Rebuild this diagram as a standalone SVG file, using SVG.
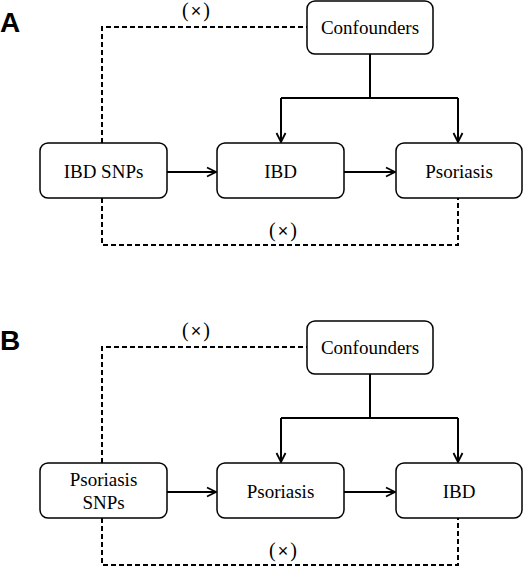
<svg xmlns="http://www.w3.org/2000/svg" width="528" height="567" viewBox="0 0 528 567">
<style>
.box{fill:#fff;stroke:#000;stroke-width:1.5}
.t{font-family:"Liberation Serif","Times New Roman",serif;font-size:19px;fill:#000;text-anchor:middle}
.x{font-family:"Liberation Serif","Times New Roman",serif;font-size:20px;fill:#000;text-anchor:middle}
.xs{font-family:"Liberation Sans",Arial,sans-serif;font-size:18px}
.p{font-family:"Liberation Sans",Arial,sans-serif;font-size:28px;font-weight:bold;fill:#000}
.s{fill:none;stroke:#000;stroke-width:2}
.d{fill:none;stroke:#000;stroke-width:2;stroke-dasharray:5 3}
</style>
<defs>
<marker id="ah" markerUnits="userSpaceOnUse" markerWidth="12" markerHeight="12" viewBox="0 0 12 12" refX="10.5" refY="6" orient="auto">
<path d="M1.5,1.5 L10.5,6 L1.5,10.5" fill="none" stroke="#000" stroke-width="1.8"/>
</marker>
</defs>
<text class="p" x="0" y="32">A</text>
<text class="p" x="0" y="350">B</text>
<g id="connectors">
<path class="s" d="M370 54 V98 M281 98 H458"/>
<path class="s" d="M281 98 V142" marker-end="url(#ah)"/>
<path class="s" d="M458 98 V142" marker-end="url(#ah)"/>
<path class="s" d="M167 172 H216" marker-end="url(#ah)"/>
<path class="s" d="M344 172 H395" marker-end="url(#ah)"/>
<path class="d" d="M102 143 V27 H307"/>
<path class="d" d="M102 198 V245 H458 V198"/>
<path class="s" d="M370 374 V418 M281 418 H458"/>
<path class="s" d="M281 418 V462" marker-end="url(#ah)"/>
<path class="s" d="M458 418 V462" marker-end="url(#ah)"/>
<path class="s" d="M167 492 H216" marker-end="url(#ah)"/>
<path class="s" d="M344 492 H395" marker-end="url(#ah)"/>
<path class="d" d="M102 463 V347 H307"/>
<path class="d" d="M102 518 V565 H458 V518"/>
</g>
<g id="labels">
<text class="x" x="196" y="17">(<tspan class="xs" dx="2">×</tspan><tspan dx="2">)</tspan></text>
<text class="x" x="283" y="237">(<tspan class="xs" dx="2">×</tspan><tspan dx="2">)</tspan></text>
<text class="x" x="196" y="337">(<tspan class="xs" dx="2">×</tspan><tspan dx="2">)</tspan></text>
<text class="x" x="283" y="557">(<tspan class="xs" dx="2">×</tspan><tspan dx="2">)</tspan></text>
</g>
<g id="a-confounders"><rect class="box" x="307" y="1" width="126" height="53" rx="8"/><text class="t" x="370" y="34">Confounders</text></g>
<g id="a-ibd-snps"><rect class="box" x="40" y="143" width="127" height="55" rx="8"/><text class="t" x="103.5" y="178">IBD SNPs</text></g>
<g id="a-ibd"><rect class="box" x="217" y="143" width="127" height="55" rx="8"/><text class="t" x="280.5" y="178">IBD</text></g>
<g id="a-psoriasis"><rect class="box" x="396" y="143" width="126" height="55" rx="8"/><text class="t" x="459" y="178">Psoriasis</text></g>
<g id="b-confounders"><rect class="box" x="307" y="321" width="126" height="53" rx="8"/><text class="t" x="370" y="354">Confounders</text></g>
<g id="b-psoriasis-snps"><rect class="box" x="40" y="463" width="127" height="55" rx="8"/><text class="t" x="103.5" y="486">Psoriasis</text><text class="t" x="103.5" y="509">SNPs</text></g>
<g id="b-psoriasis"><rect class="box" x="217" y="463" width="127" height="55" rx="8"/><text class="t" x="280.5" y="498">Psoriasis</text></g>
<g id="b-ibd"><rect class="box" x="396" y="463" width="126" height="55" rx="8"/><text class="t" x="459" y="498">IBD</text></g>
</svg>
